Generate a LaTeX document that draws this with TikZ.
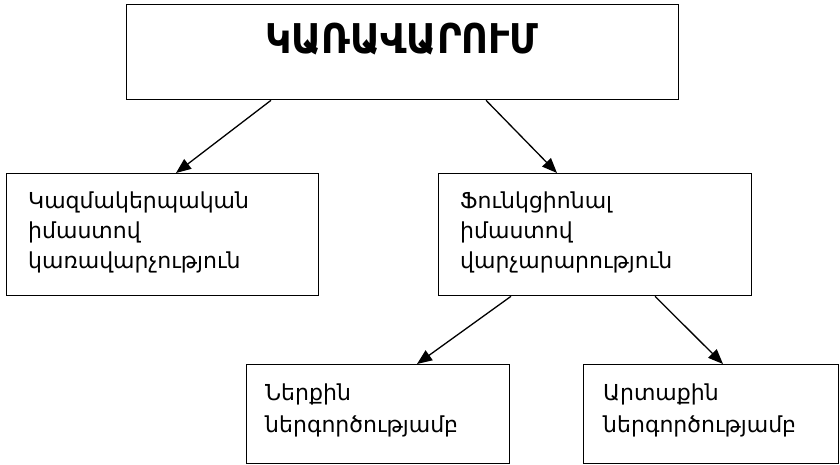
\documentclass[tikz,border=0pt]{standalone}
\usepackage{fontspec}
\setmainfont{DejaVu Sans}
\newfontfamily\condfont{DejaVu Sans Condensed}
\usetikzlibrary{arrows.meta}
\begin{document}
\begin{tikzpicture}[x=1pt,y=-1pt,
  box/.style={draw, line width=1.3pt, rectangle, inner sep=0pt, anchor=north west},
  txt/.style={anchor=base west, align=left, inner sep=0pt},
  midtxt/.style={txt, font=\fontsize{22}{30}\selectfont},
  lowtxt/.style={txt, font=\fontsize{22}{32}\selectfont},
  arr/.style={line width=1.3pt, -{Triangle[length=15pt,width=12pt]}}]
\useasboundingbox (0,0) rectangle (840,464);
\node[box, minimum width=552pt, minimum height=95pt] (top) at (126,4) {};
\node[box, minimum width=312pt, minimum height=122pt] (ml) at (6,173) {};
\node[box, minimum width=313pt, minimum height=122pt] (mr) at (438,173) {};
\node[box, minimum width=263pt, minimum height=99pt] (bl) at (246,364) {};
\node[box, minimum width=255pt, minimum height=99pt] (br) at (583,364) {};
\node[anchor=base, inner sep=0pt, font=\condfont\bfseries\fontsize{41}{48}\selectfont] (title) at (402,53) {ԿԱՌԱՎԱՐՈՒՄ};
\node[midtxt] (tml) at (28,268) {Կազմակերպական\\իմաստով\\կառավարչություն};
\node[midtxt] (tmr) at (460,268) {Ֆունկցիոնալ\\իմաստով\\վարչարարություն};
\node[lowtxt] (tbl) at (265,432) {Ներքին\\ներգործությամբ};
\node[lowtxt] (tbr) at (603,432) {Արտաքին\\ներգործությամբ};
\draw[arr] ([xshift=145pt]top.south west) -- ([xshift=170pt]ml.north west);
\draw[arr] ([xshift=360pt]top.south west) -- ([xshift=119pt]mr.north west);
\draw[arr] ([xshift=73pt]mr.south west) -- ([xshift=171pt]bl.north west);
\draw[arr] ([xshift=217pt]mr.south west) -- ([xshift=140pt]br.north west);
\end{tikzpicture}
\end{document}
